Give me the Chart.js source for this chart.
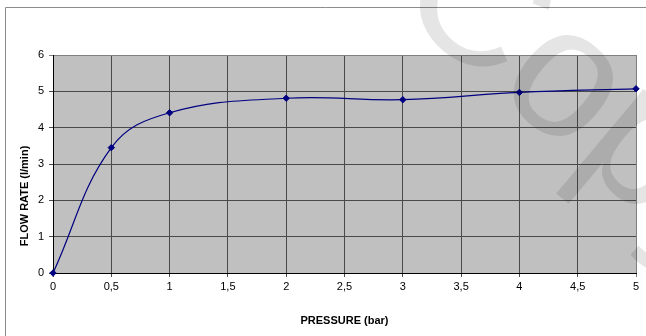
<!DOCTYPE html>
<html>
<head>
<meta charset="utf-8">
<script src="https://cdn.jsdelivr.net/npm/chart.js@4/dist/chart.umd.min.js"></script>
<style>
  html, body { margin: 0; padding: 0; background: #fff; }
  #wrap { width: 646px; height: 336px; position: relative; }
</style>
</head>
<body>
<div id="wrap"><canvas id="chart"></canvas></div>
<script>
// Pressure (bar) vs flow rate (l/min)
const pressure = [0, 0.5, 1, 2, 3, 4, 5];
const flowRate = [0, 3.45, 4.41, 4.81, 4.77, 4.97, 5.07];

const xTicks = [0, 0.5, 1, 1.5, 2, 2.5, 3, 3.5, 4, 4.5, 5];
const xTickLabels = ['0', '0,5', '1', '1,5', '2', '2,5', '3', '3,5', '4', '4,5', '5'];
const yTicks = [0, 1, 2, 3, 4, 5, 6];

const xTitle = 'PRESSURE (bar)';
const yTitle = 'FLOW RATE (l/min)';

const FONT = '"Liberation Sans", Arial, sans-serif';

// grey plot area, outer frame, rotated y title and the watermark
const decor = {
  id: 'decor',
  beforeDraw(chart) {
    const { ctx, chartArea: a } = chart;
    ctx.save();
    ctx.fillStyle = '#c0c0c0';
    ctx.fillRect(a.left, a.top, a.right - a.left, a.bottom - a.top);
    ctx.strokeStyle = '#8c8c8c';
    ctx.lineWidth = 1;
    ctx.beginPath();
    ctx.moveTo(5.5, 336);
    ctx.lineTo(5.5, 7.5);
    ctx.lineTo(646, 7.5);
    ctx.stroke();
    ctx.restore();
  },
  afterDraw(chart) {
    const { ctx } = chart;
    ctx.save();
    ctx.translate(25, 196);
    ctx.rotate(-Math.PI / 2);
    ctx.font = 'bold 11px ' + FONT;
    ctx.fillStyle = '#000';
    ctx.textAlign = 'center';
    ctx.textBaseline = 'middle';
    ctx.fillText(yTitle, 0, 0);
    ctx.restore();

    ctx.save();
    ctx.translate(390, 4);
    ctx.rotate(40 * Math.PI / 180);
    ctx.font = '185px ' + FONT;
    ctx.fillStyle = 'rgba(0,0,0,0.1)';
    ctx.textBaseline = 'alphabetic';
    ctx.fillText('Copy', 0, 0);
    ctx.restore();
  }
};

new Chart(document.getElementById('chart'), {
  type: 'scatter',
  data: {
    datasets: [{
      data: pressure.map((x, i) => ({ x, y: flowRate[i] })),
      showLine: true,
      tension: 0.4,
      borderColor: '#000080',
      borderWidth: 1.2,
      backgroundColor: '#000080',
      pointStyle: 'rectRot',
      pointRadius: 3.2,
      pointBorderWidth: 1,
      pointBorderColor: '#000080',
      clip: false,
    }],
  },
  options: {
    responsive: true,
    maintainAspectRatio: false,
    animation: false,
    layout: { padding: { left: 0, top: 55, right: 10, bottom: 8 } },
    plugins: {
      legend: { display: false },
      tooltip: { enabled: false },
    },
    scales: {
      x: {
        type: 'linear',
        min: 0,
        max: 5,
        afterFit(s) { s.height = 55; },
        afterBuildTicks(s) { s.ticks = xTicks.map(v => ({ value: v })); },
        ticks: {
          color: '#000',
          font: { family: FONT, size: 11 },
          padding: 3,
          maxRotation: 0,
          callback: (v) => xTickLabels[xTicks.indexOf(v)] ?? '',
        },
        grid: {
          color: (c) => c.tick && c.tick.value === 5 ? '#808080' : '#4a4a4a',
          lineWidth: 1,
          tickLength: 4,
        },
        border: { color: '#000', width: 1 },
        title: {
          display: true,
          text: xTitle,
          color: '#000',
          font: { family: FONT, size: 11, weight: 'bold' },
          padding: { top: 0, bottom: 0 },
        },
      },
      y: {
        min: 0,
        max: 6,
        afterFit(s) { s.width = 53; },
        afterBuildTicks(s) { s.ticks = yTicks.map(v => ({ value: v })); },
        ticks: {
          color: '#000',
          font: { family: FONT, size: 11 },
          padding: 5,
        },
        grid: {
          color: (c) => c.tick && c.tick.value === 6 ? '#808080' : '#4a4a4a',
          lineWidth: 1,
          tickLength: 4,
        },
        border: { color: '#000', width: 1 },
      },
    },
  },
  plugins: [decor],
});
</script>
</body>
</html>
